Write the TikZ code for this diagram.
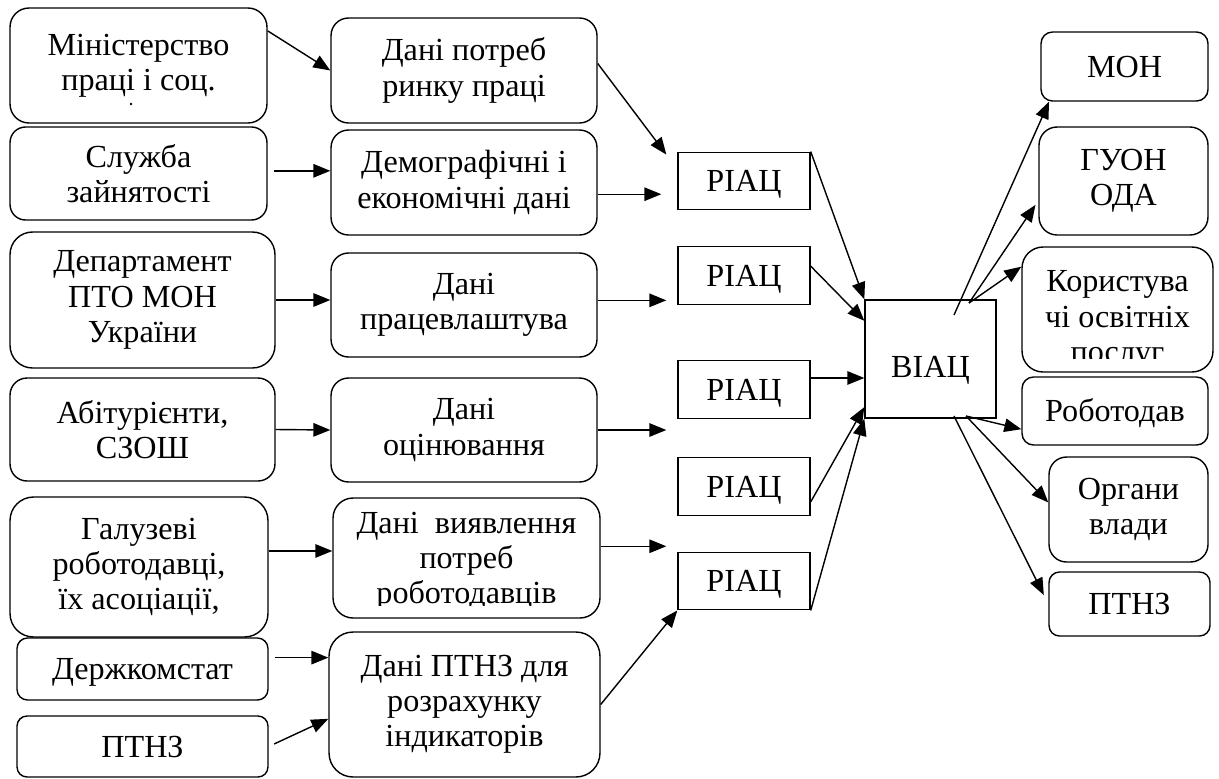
\documentclass[tikz,border=0pt]{standalone}
\usepackage{fontspec}
\setmainfont{Liberation Serif}
\usepackage{tikz}
\usetikzlibrary{arrows.meta}

\begin{document}
\begin{tikzpicture}[x=0.02cm, y=-0.02cm,
    every node/.style={font=\fontsize{18.3}{20}\selectfont, align=center, inner sep=0pt},
    ml/.style={execute at begin node={\rule{0pt}{15.6pt}}},
    one/.style={text height=16.1pt, text depth=4pt},
    rbox/.style={draw, line width=0.8pt, rounded corners=#1},
    sbox/.style={draw, line width=0.8pt, minimum width=2.64cm, minimum height=1.15cm},
    arr/.style={line width=0.8pt, -{Triangle[length=0.34cm,width=0.27cm]}}]
    \useasboundingbox (0,0) rectangle (1219,778);
    \clip (0,0) rectangle (1219,778);

    % sources
    \node[rbox=0.38cm, minimum width=5.14cm, minimum height=2.30cm] (min) at (138.5,65.5) {Міністерство\\праці і соц.};
    \fill (131,104) circle (1.4);
    \node[rbox=0.31cm, ml, minimum width=5.14cm, minimum height=1.86cm] (sluzh) at (138.5,173.5) {Служба\\зайнятості};
    \node[rbox=0.45cm, ml, minimum width=5.30cm, minimum height=2.72cm] (dep) at (142.5,300) {Департамент\\ПТО МОН\\України};
    \node[rbox=0.34cm, ml, minimum width=5.30cm, minimum height=2.06cm] (abit) at (142.5,429.5) {Абітурієнти,\\СЗОШ};
    \node[rbox=0.47cm, ml, minimum width=5.16cm, minimum height=2.80cm] (gal) at (139,567) {Галузеві\\роботодавці,\\їх асоціації,};
    \node[rbox=0.21cm, one, minimum width=5.02cm, minimum height=1.24cm] (derzh) at (142.5,669) {Держкомстат};
    \node[rbox=0.20cm, one, minimum width=5.02cm, minimum height=1.22cm] (ptnzl) at (142.5,746.5) {ПТНЗ};

    % data
    \node[rbox=0.35cm, ml, minimum width=5.32cm, minimum height=2.10cm] (potreb) at (464,70.5) {Дані потреб\\ринку праці};
    \node[rbox=0.35cm, ml, minimum width=5.32cm, minimum height=2.10cm] (demo) at (464,182.5) {Демографічні і\\економічні дані};
    \node[rbox=0.35cm, ml, minimum width=5.32cm, minimum height=2.08cm] (prac) at (464,305) {Дані\\працевлаштува};
    \node[rbox=0.35cm, ml, minimum width=5.32cm, minimum height=2.08cm] (ocin) at (464,430) {Дані\\оцінювання};
    \node[rbox=0.40cm, minimum width=5.34cm, minimum height=2.40cm] (vyav) at (466.5,558) {};
    \begin{scope}
      \clip (vyav.north west) rectangle (600,605);
      \node[ml] (vyavtxt) at (466.5,561) {Дані~ виявлення\\потреб\\роботодавців};
    \end{scope}
    \node[rbox=0.48cm, ml, minimum width=5.42cm, minimum height=2.90cm] (ptnzd) at (464.5,704.5) {Дані ПТНЗ для\\розрахунку\\індикаторів};

    % riac, viac
    \foreach \i/\y in {1/181,2/275.5,3/389.5,4/486.5,5/581}
    { \node[sbox, one] (r\i) at (744,\y) {РІАЦ}; }
    \node[sbox, minimum width=2.62cm, minimum height=2.36cm, text height=25pt, text depth=4pt] (v) at (930.5,359) {ВІАЦ};

    % users
    \node[rbox=0.23cm, one, minimum width=3.34cm, minimum height=1.38cm] (moh) at (1124.5,66.5) {МОН};
    \node[rbox=0.36cm, ml, minimum width=3.38cm, minimum height=2.16cm] (guon) at (1123.5,181) {ГУОН\\ОДА};
    \node[rbox=0.42cm, minimum width=3.82cm, minimum height=2.50cm] (kor) at (1117.5,309.5) {};
    \begin{scope}
      \clip (kor.north west) rectangle (1213,358);
      \node[ml] (kortxt) at (1117.5,320) {Користува\\чі освітніх\\послуг};
    \end{scope}
    \node[rbox=0.23cm, one, minimum width=3.72cm, minimum height=1.36cm] (rob) at (1115,411) {Роботодав};
    \node[rbox=0.35cm, ml, minimum width=3.18cm, minimum height=2.10cm] (org) at (1128.5,509.5) {Органи\\влади};
    \node[rbox=0.21cm, one, minimum width=3.22cm, minimum height=1.28cm] (ptnzr) at (1129.5,604) {ПТНЗ};

    % sources -> data
    \draw[arr] (min.15) to (potreb.west);
    \draw[arr, shorten <=0.12cm] (sluzh.east |- demo.175) to (demo.175);
    \draw[arr] (dep.east) to (dep.east -| prac.west);
    \draw[arr] (abit.east) to (ocin.west);
    \draw[arr] (gal.east |- vyav.177) to (vyav.177);
    \draw[arr, shorten <=0.12cm] (derzh.east |- ptnzd.161) to (ptnzd.161);
    \draw[arr, shorten <=0.12cm] (ptnzl.east) to (ptnzd.186);

    % data -> riac
    \draw[arr] (potreb.3) to ([xshift=-0.22cm, yshift=-0.06cm]r1.north west);
    \draw[arr, shorten >=0.32cm] (demo.-5) to (demo.-5 -| r1.west);
    \draw[arr, shorten >=0.22cm] (prac.2) to (prac.2 -| r2.west);
    \draw[arr, shorten >=0.22cm] (ocin.east) to (ocin.east -| r3.west);
    \draw[arr, shorten >=0.22cm] (vyav.5) to (vyav.5 -| r5.west);
    \draw[arr] (ptnzd.east) to (r5.south west);

    % riac -> viac
    \draw[arr] (r1.north east) to (v.north west);
    \draw[arr] (r2.8) to (v.150);
    \draw[arr] (r3.east |- v.196) to (v.196);
    \draw[arr] (r4.-13) to (v.216);
    \draw[arr] (r5.south east) to (v.south west);

    % viac -> users
    \path (954,315) coordinate (vt1) (969,303) coordinate (vt2);
    \path (966,416) coordinate (vb1) (954,416) coordinate (vb2);
    \draw[arr] (vt1) to (moh.205);
    \draw[arr, shorten >=0.1cm] (vt2) to (guon.193);
    \draw[arr] (vt2) to (kor.156);
    \draw[arr] (vb1) to (rob.191);
    \draw[arr] (vb1) to (org.175);
    \draw[arr, shorten >=0.2cm] (vb2) to (ptnzr.west);
\end{tikzpicture}
\end{document}
